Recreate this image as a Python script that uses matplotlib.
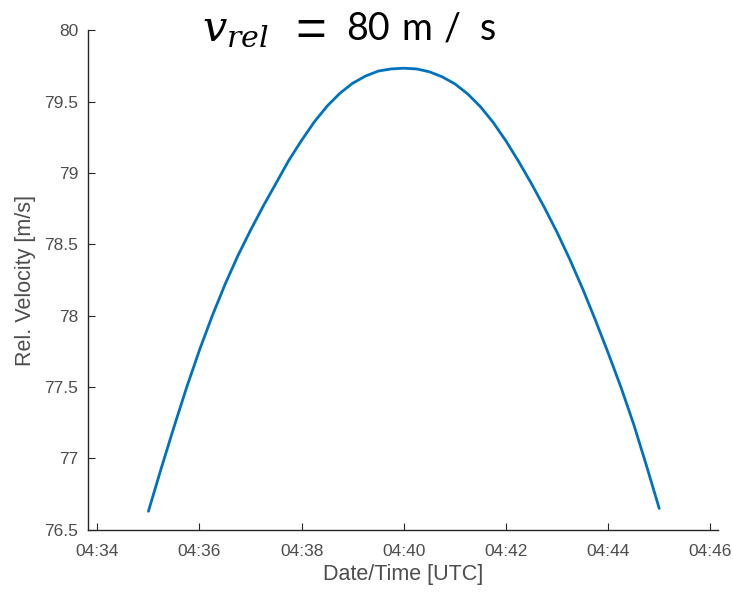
import datetime as dt
import matplotlib
matplotlib.use("Agg")
import matplotlib.pyplot as plt
import matplotlib.dates as mdates

# relative velocity, every 15 s from 04:35 to 04:45
start = dt.datetime(2020, 1, 1, 4, 35, 0)
step_s = 15
velocity = [76.63, 76.93, 77.22, 77.50, 77.76, 78.00, 78.22, 78.42,
            78.60, 78.77, 78.93, 79.09, 79.23, 79.36, 79.47, 79.56,
            79.63, 79.68, 79.715, 79.73, 79.735,
            79.73, 79.71, 79.675, 79.625, 79.555, 79.465, 79.355, 79.225,
            79.08, 78.925, 78.76, 78.585, 78.395, 78.19, 77.97, 77.74,
            77.50, 77.24, 76.95, 76.65]
times = [start + dt.timedelta(seconds=step_s * i) for i in range(len(velocity))]

y_ticks = [76.5, 77, 77.5, 78, 78.5, 79, 79.5, 80]
y_labels = ["76.5", "77", "77.5", "78", "78.5", "79", "79.5", "80"]

plt.rcParams['font.family'] = ['Liberation Sans', 'DejaVu Sans']
plt.rcParams['mathtext.fontset'] = 'dejavuserif'

fig = plt.figure(figsize=(7.33, 5.96), dpi=100)
ax = fig.add_axes([0.120, 0.111, 0.8595, 0.838])

ax.plot(times, velocity, color='#0072BD', linewidth=2.0, solid_capstyle='round')

ax.set_xlim(dt.datetime(2020, 1, 1, 4, 33, 49), dt.datetime(2020, 1, 1, 4, 46, 9))
ax.set_ylim(76.5, 80)
ax.xaxis.set_major_locator(mdates.MinuteLocator(byminute=range(34, 47, 2)))
ax.xaxis.set_major_formatter(mdates.DateFormatter('%H:%M'))
ax.set_yticks(y_ticks)
ax.set_yticklabels(y_labels)

for side in ['top', 'right']:
    ax.spines[side].set_visible(False)
for side in ['left', 'bottom']:
    ax.spines[side].set_color('#262626')
    ax.spines[side].set_linewidth(1.0)
ax.tick_params(direction='in', length=5, width=0.8, colors='#262626',
               labelcolor='#4d4d4d', labelsize=12.5)
ax.tick_params(axis='x', pad=10)
ax.tick_params(axis='y', pad=7)

ax.set_xlabel("Date/Time [UTC]", fontsize=15.5, color='#4d4d4d', labelpad=4)
ax.set_ylabel("Rel. Velocity [m/s]", fontsize=15.5, color='#4d4d4d', labelpad=6)

# title pieces, spaced like the equation in the original
base_y = 1 - 40 / 596
fig.text(202 / 733, base_y, r"$v_{rel}$", fontsize=31, ha='left', va='baseline')
fig.text(311 / 733, 1 - 46 / 596, "=", fontsize=38, family='Liberation Sans',
         ha='center', va='baseline')
for txt, xc in [("80", 368), ("m", 417), ("/", 452), ("s", 488)]:
    fig.text(xc / 733, base_y, txt, fontsize=27, family='Lato',
             ha='center', va='baseline', color='black')

fig.savefig("out.png", dpi=100)
